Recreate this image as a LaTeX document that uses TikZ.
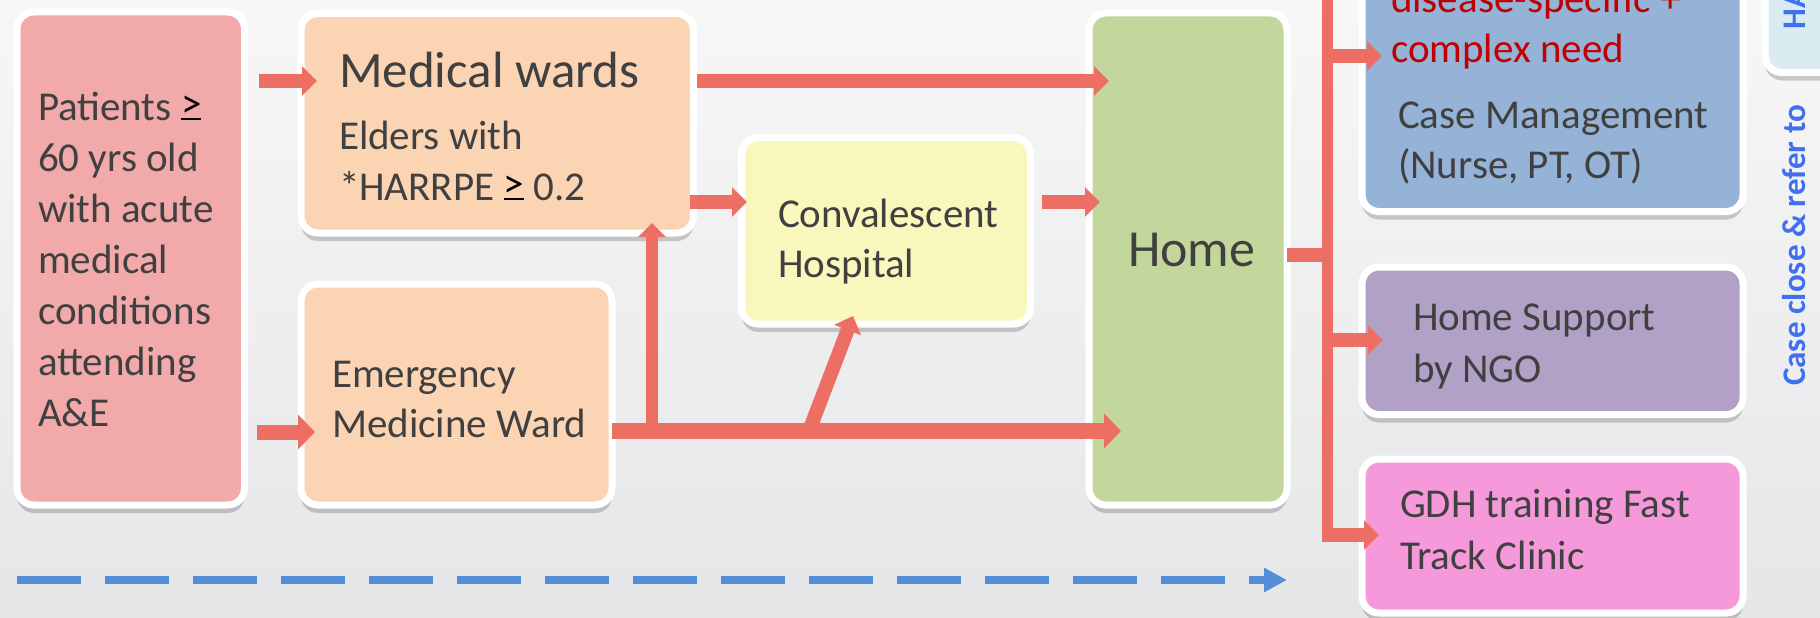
\documentclass[tikz,border=0pt]{standalone}
\usepackage{fontspec}
\setmainfont{Carlito}
\usetikzlibrary{arrows.meta,shadows}

\definecolor{bgtop}{RGB}{247,247,247}
\definecolor{bgbot}{RGB}{229,230,232}
\definecolor{ink}{RGB}{64,64,64}
\definecolor{alert}{RGB}{192,0,0}
\definecolor{flowred}{RGB}{237,111,99}
\definecolor{dblue}{RGB}{85,142,213}
\definecolor{vblue}{RGB}{64,112,240}
\definecolor{cpat}{RGB}{242,169,169}
\definecolor{cpeach}{RGB}{251,212,180}
\definecolor{cconv}{RGB}{249,247,187}
\definecolor{chome}{RGB}{195,214,155}
\definecolor{ccase}{RGB}{149,179,215}
\definecolor{csup}{RGB}{178,161,199}
\definecolor{cgdh}{RGB}{245,153,218}
\definecolor{cha}{RGB}{218,236,242}

% greater-or-equal drawn as ">" over a flat bar
\newcommand\geqmark{{\color{black}\setbox0\hbox{>}\rlap{\raisebox{0.06em}{>}}\rule[-0.01em]{\wd0}{0.065em}}}

\begin{document}
\begin{tikzpicture}[x=1pt,y=-1pt,
  panel/.style={rectangle, rounded corners=17pt, draw=white, line width=7pt,
    inner sep=0pt, outer sep=0pt,
    drop shadow={shadow xshift=0pt, shadow yshift=-8pt, opacity=0.18, fill=black}},
  lbl/.style={anchor=base west, inner sep=0pt, outer sep=0pt, text=ink,
    align=left, font=\fontsize{41}{51}\selectfont},
  arr/.style={draw=flowred, line width=14pt, -{Triangle[length=15pt,width=29pt]}},
  wide/.style={draw=flowred, line width=16pt, -{Triangle[length=17pt,width=34pt]}},
  bar/.style={draw=flowred, line width=14pt},
  vtext/.style={anchor=base west, rotate=90, inner sep=0pt, text=vblue,
    font=\fontsize{33}{40}\selectfont\bfseries}
]
\useasboundingbox (0,0) rectangle (1820,618);
\clip (0,0) rectangle (1820,618);
\shade[top color=bgtop, bottom color=bgbot] (0,0) rectangle (1820,618);

% boxes
\node[panel, fill=cpat,   minimum width=227.5pt, minimum height=493pt]   (pat)  at (130.75,258.5) {};
\node[panel, fill=cpeach, minimum width=392.5pt, minimum height=219.5pt] (med)  at (497.25,123.25) {};
\node[panel, fill=cpeach, minimum width=311pt,   minimum height=221pt]   (em)   at (456.5,394.5) {};
\node[panel, fill=cconv,  minimum width=289pt,   minimum height=186.5pt] (conv) at (886,230.75) {};
\node[panel, fill=chome,  minimum width=198pt,   minimum height=492pt]   (home) at (1188,259) {};
\node[panel, fill=ccase,  minimum width=381pt,   minimum height=291.5pt] (case) at (1552.5,65.75) {};
\node[panel, fill=csup,   minimum width=381pt,   minimum height=147.5pt] (sup)  at (1552.5,340.75) {};
\node[panel, fill=cgdh,   minimum width=381pt,   minimum height=154pt]   (gdh)  at (1552.5,536) {};
\node[panel, fill=cha,    minimum width=135pt,   minimum height=172.5pt] (ha)   at (1832.5,-13.75) {};

% arrow end points inside the target boxes
\coordinate (medA)  at (317,81);
\coordinate (emA)   at (315,432);
\coordinate (homeA) at (1109,81);
\coordinate (convA) at (747,202);
\coordinate (homeB) at (1100,202);
\coordinate (homeC) at (1121,431);
\coordinate (medV)  at (652,223);
\coordinate (split) at (809,431);
\coordinate (convB) at (853,316);
\coordinate (busJ)  at (1332.5,255);
\coordinate (busTop) at (1327,-10);
\coordinate (busBot) at (1327,535);
\coordinate (caseA) at (1382,56);
\coordinate (supA)  at (1383,340);
\coordinate (gdhA)  at (1379,535);

% flow connectors
\draw[arr, shorten <=14pt] (pat.east |- medA) -- (medA);
\draw[wide, line width=15pt, shorten <=12pt] (pat.east |- emA) -- (emA);
\draw[arr, shorten <=3.5pt] (med.east |- homeA) -- (homeA);
\draw[arr, shorten <=-3.5pt] (med.east |- convA) -- (convA);
\draw[arr, shorten <=11.5pt] (conv.east |- homeB) -- (homeB);
\draw[wide] (em.east |- homeC) -- (homeC);
\draw[arr, line width=12.5pt, -{Triangle[length=14pt,width=27pt]}] (medV |- homeC) -- (medV);
\draw[arr, -{Triangle[length=15pt,width=28pt]}] (split) -- (convB);

% distribution bus after discharge home
\draw[bar] (home.east |- busJ) -- (busJ);
\draw[bar, line width=11pt] (busTop) -- (busBot);
\draw[arr] (busTop |- caseA) -- (caseA);
\draw[arr] (busTop |- supA) -- (supA);
\draw[arr] ([xshift=-5.5pt]busBot) -- (gdhA);

% timeline
\coordinate (dashS) at (17,580);
\coordinate (dashE) at (1287,580);
\draw[draw=dblue, line width=8pt, dash pattern=on 64pt off 24pt,
  -{Triangle[length=23pt,width=23pt]}] (dashS) -- (dashE);

% texts (multi-line nodes are placed by the baseline of their last line)
\node[lbl] (pat-t) at (38,426)
  {Patients \geqmark\\60 yrs old\\with acute\\medical\\conditions\\attending\\A\&E};
\node[lbl, font=\fontsize{51}{60}\selectfont] (med-t) at (339,88) {Medical wards};
\node[lbl] (med-s) at (339,200) {Elders with\\*HARRPE \geqmark{} 0.2};
\node[lbl, font=\fontsize{41}{50}\selectfont] (em-t) at (332,437) {Emergency\\Medicine Ward};
\node[lbl, font=\fontsize{41}{50}\selectfont] (conv-t) at (778,277) {Convalescent\\Hospital};
\node[lbl, font=\fontsize{52}{60}\selectfont] (home-t) at (1128,266) {Home};
\node[lbl, text=alert, font=\fontsize{41}{50}\selectfont] (case-r) at (1391,63) {disease-specific +\\complex need};
\node[lbl, font=\fontsize{41}{50}\selectfont] (case-t) at (1398,178) {Case Management\\(Nurse, PT, OT)};
\node[lbl, font=\fontsize{41}{52}\selectfont] (sup-t) at (1413,382) {Home Support\\by NGO};
\node[lbl, font=\fontsize{41}{52}\selectfont] (gdh-t) at (1400,569) {GDH training Fast\\Track Clinic};

\node[vtext] (ha-t) at (1805,30) {HA};
\node[vtext] (close-t) at (1805,386) {Case close \& refer to};
\end{tikzpicture}
\end{document}
